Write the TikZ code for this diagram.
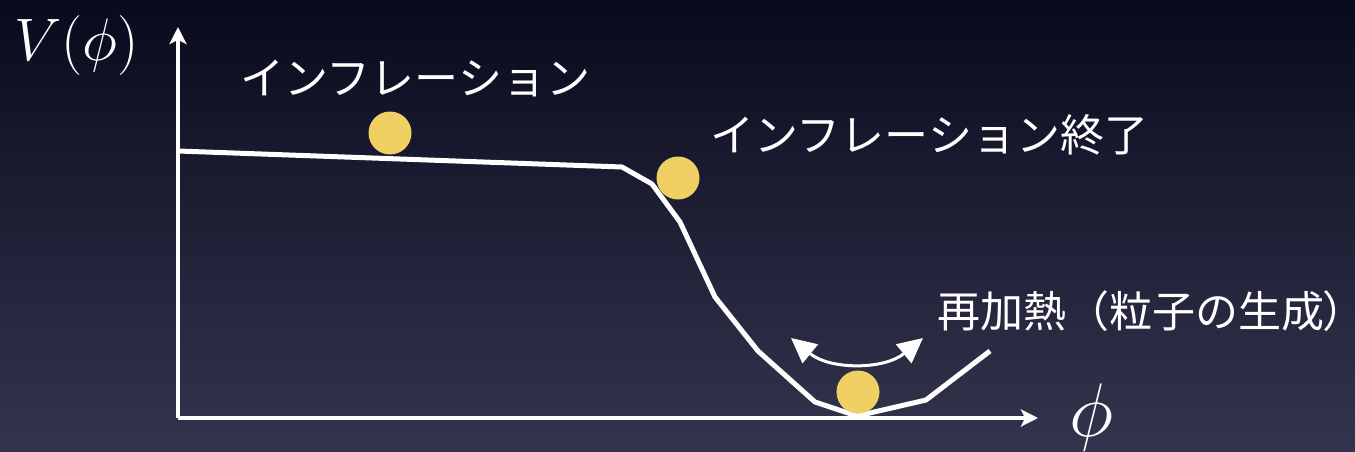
\RequirePackage{fix-cm}
\documentclass[tikz,border=0pt]{standalone}
\usepackage{fontspec}
\newfontfamily\jp{Noto Sans CJK JP}
\usetikzlibrary{arrows.meta}
\definecolor{bgtop}{RGB}{10,10,30}
\definecolor{bgbot}{RGB}{52,52,78}
\definecolor{ball}{RGB}{240,208,98}
\tikzset{
  axis/.style={white,line width=4pt,-{Stealth[length=17pt,width=17pt,inset=4pt]}},
  pot/.style={white,line width=5pt,line join=round},
  osc/.style={white,line width=3pt,{Triangle[length=25pt,width=24pt]}-{Triangle[length=25pt,width=24pt]}},
  ballst/.style={circle,fill=ball,minimum size=43pt,inner sep=0pt},
  jplabel/.style={text=white,inner sep=0pt,anchor=west,font=\jp\fontsize{44}{44}\selectfont},
  mathlabel/.style={text=white,inner sep=0pt,anchor=base west}
}
\begin{document}
\begin{tikzpicture}[x=1pt,y=-1pt]
\useasboundingbox (0,0) rectangle (1355,452);
\shade[top color=bgtop,bottom color=bgbot] (0,0) rectangle (1355,452);
% axes
\coordinate (o) at (178,418);
\coordinate (ytip) at (178,27);
\coordinate (xtip) at (1038,418);
\draw[axis] (o) -- (ytip);
\draw[axis] (o) -- (xtip);
% potential
\coordinate (p0) at (178,151);
\coordinate (p1) at (622,167);
\coordinate (p2) at (652,184);
\coordinate (p3) at (680,222);
\coordinate (p4) at (715,297);
\coordinate (p5) at (758,351);
\coordinate (p6) at (815,402);
\coordinate (p7) at (857,416);
\coordinate (p8) at (926,400);
\coordinate (p9) at (990,351);
\draw[pot] (p0) -- (p1) -- (p2) -- (p3) -- (p4) -- (p5) -- (p6) -- (p7) -- (p8) -- (p9);
% balls
\node[ballst] (b1) at (390,133) {};
\node[ballst] (b2) at (678,178) {};
\node[ballst] (b3) at (858,392) {};
% oscillation arrow
\coordinate (oa) at (791,338);
\coordinate (ob) at (923,338);
\draw[osc] (oa) .. controls (830,370) and (884,370) .. (ob);
% labels
\node[mathlabel,font=\fontsize{60}{60}\selectfont] (V) at (14,60) {$V(\phi)$};
\node[mathlabel,font=\fontsize{76}{76}\selectfont] (phi) at (1069,436) {$\phi$};
\node[jplabel] (t1) at (240,79) {インフレーション};
\node[jplabel] (t2) at (710,135) {インフレーション終了};
\node[jplabel,font=\jp\fontsize{43}{43}\selectfont] (t3) at (937,311) {再加熱（粒子の生成{\addfontfeatures{RawFeature=+palt}）}};
\end{tikzpicture}
\end{document}
